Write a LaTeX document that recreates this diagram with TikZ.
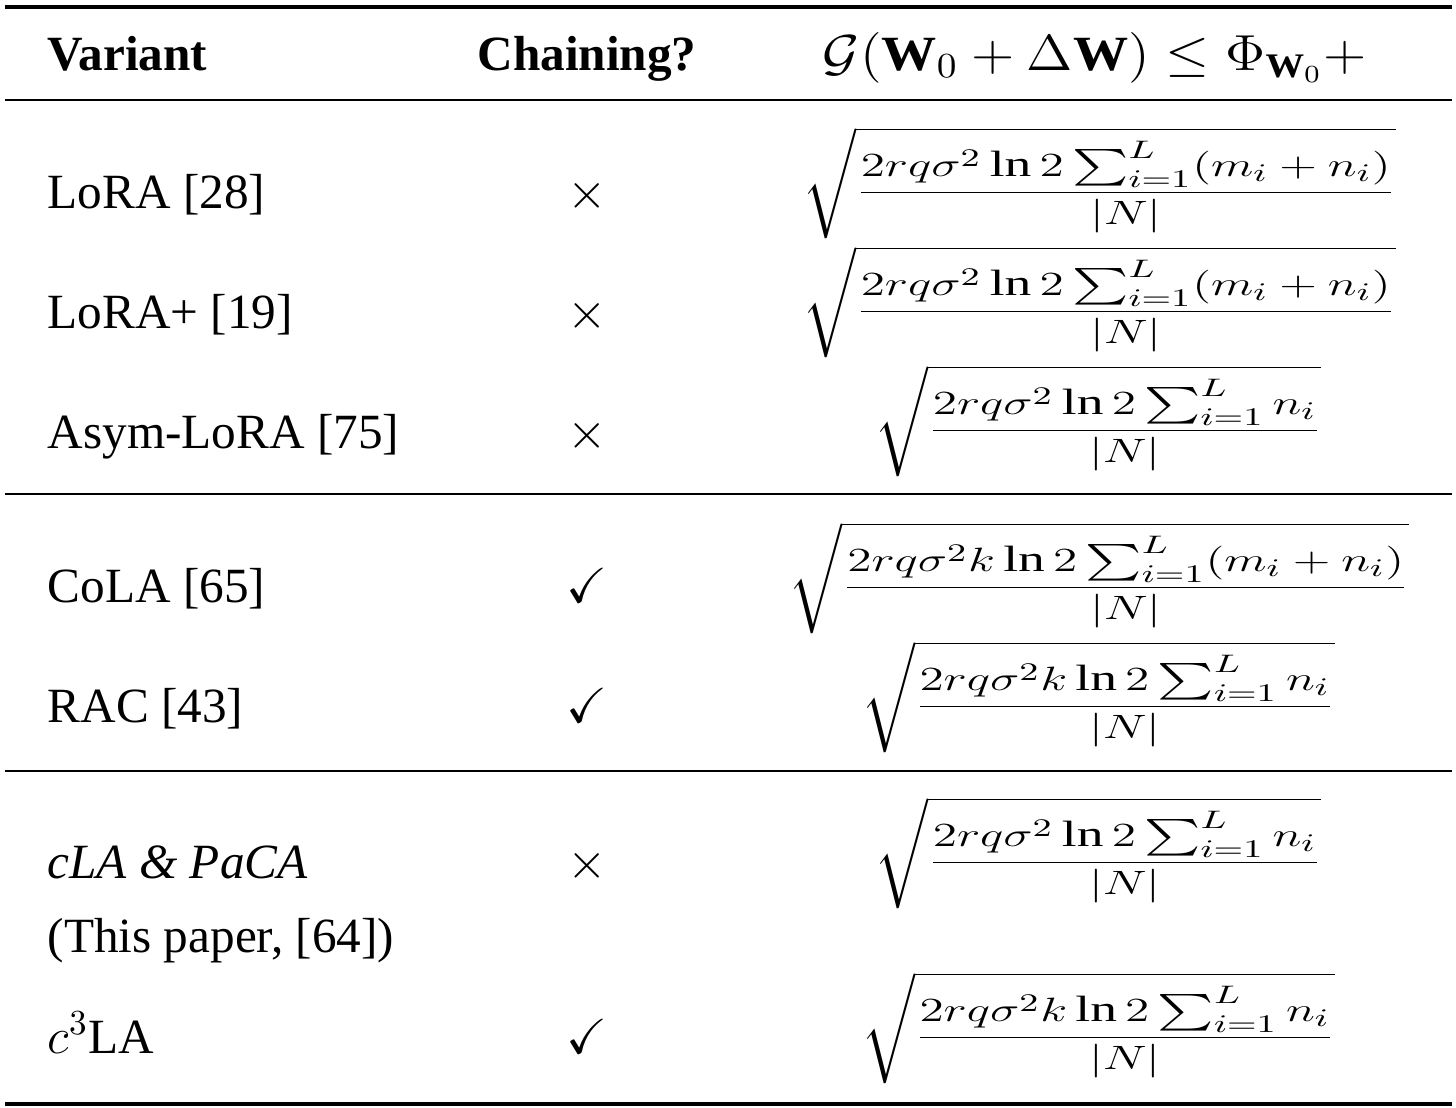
\documentclass[tikz,border=0pt]{standalone}
\usepackage{amsmath,amssymb,graphicx}
\usepackage{fontspec}
\setmainfont{Liberation Serif}
\begin{document}
\begin{tikzpicture}[x=0.01cm,y=-0.01cm,
  txt/.style={anchor=base west,inner sep=0pt,font=\fontsize{14}{17}\selectfont},
  mk/.style={anchor=base,inner sep=0pt,font=\fontsize{14}{17}\selectfont},
  fm/.style={inner sep=0pt,font=\fontsize{13}{16}\selectfont},
  thick rule/.style={line width=1.4pt},
  thin rule/.style={line width=0.8pt}]
\useasboundingbox (0,0) rectangle (1456,1108);
\draw[thick rule] (5,7) -- (1452,7);
\draw[thin rule] (5,100) -- (1452,100);
\draw[thin rule] (5,494) -- (1452,494);
\draw[thin rule] (5,771) -- (1452,771);
\draw[thick rule] (5,1104) -- (1452,1104);
\newcommand{\fs}[1]{\scalebox{1.17}[0.8]{$\displaystyle\sqrt{\frac{#1}{|N|}}$}}
\node[txt] (h1) at (47,70) {\textbf{Variant}};
\node[mk] (h2) at (587,70) {\textbf{Chaining?}};
\node[mk] (h3) at (1095,70) {\scalebox{1.12}[1]{$\mathcal{G}(\mathbf{W}_0+\Delta\mathbf{W})\le\Phi_{\mathbf{W}_0}+$}};
\node[txt] (a1) at (47,208) {LoRA [28]};
\node[mk] (b1) at (587,208) {$\times$};
\node[fm] (c1) at (1099,183) {\fs{2rq\sigma^2\ln 2\sum_{i=1}^L(m_i+n_i)}};
\node[txt] (a2) at (47,328) {LoRA+ [19]};
\node[mk] (b2) at (587,328) {$\times$};
\node[fm] (c2) at (1099,302) {\fs{2rq\sigma^2\ln 2\sum_{i=1}^L(m_i+n_i)}};
\node[txt] (a3) at (47,448) {Asym-LoRA [75]};
\node[mk] (b3) at (587,448) {$\times$};
\node[fm] (c3) at (1098,421) {\fs{2rq\sigma^2\ln 2\sum_{i=1}^L n_i}};
\node[txt] (a4) at (47,602) {CoLA [65]};
\node[mk] (b4) at (587,602) {$\checkmark$};
\node[fm] (c4) at (1099,578) {\fs{2rq\sigma^2k\ln 2\sum_{i=1}^L(m_i+n_i)}};
\node[txt] (a5) at (47,722) {RAC [43]};
\node[mk] (b5) at (587,722) {$\checkmark$};
\node[fm] (c5) at (1098,697) {\fs{2rq\sigma^2k\ln 2\sum_{i=1}^L n_i}};
\node[txt] (a6) at (47,878) {\textit{cLA \& PaCA}};
\node[txt] (a6b) at (47,952) {(This paper, [64])};
\node[mk] (b6) at (587,878) {$\times$};
\node[fm] (c6) at (1098,853) {\fs{2rq\sigma^2\ln 2\sum_{i=1}^L n_i}};
\node[txt] (a7) at (47,1053) {$c^3$LA};
\node[mk] (b7) at (587,1053) {$\checkmark$};
\node[fm] (c7) at (1098,1028) {\fs{2rq\sigma^2k\ln 2\sum_{i=1}^L n_i}};
\end{tikzpicture}
\end{document}
